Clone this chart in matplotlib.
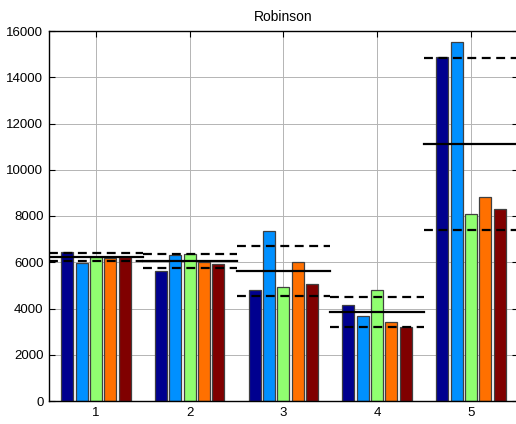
import numpy as np
import matplotlib
matplotlib.use("Agg")
import matplotlib.pyplot as plt

plt.rcParams['font.family'] = ['Liberation Sans', 'DejaVu Sans']

title = "Robinson"
groups = [1, 2, 3, 4, 5]
series_colors = ["#00008F", "#0090FF", "#90FF70", "#FF7000", "#800000"]
values = np.array([
    [6430, 5954, 6240, 6196, 6240],
    [5621, 6313, 6356, 6010, 5937],
    [4800, 7364, 4942, 6023, 5059],
    [4151, 3675, 4813, 3403, 3213],
    [14862, 15510, 8086, 8821, 8315],
])
yticks = [0, 2000, 4000, 6000, 8000, 10000, 12000, 14000, 16000]

means = values.mean(axis=1)
stds = values.std(axis=1, ddof=1)

fig = plt.figure(figsize=(5.16, 4.24), dpi=100)
ax = fig.add_axes([49/516, 23/424, 468.75/516, 370/424])

n = values.shape[1]
spacing = 0.153
width = 0.128
for j in range(n):
    xs = np.array(groups) + (j - (n - 1) / 2) * spacing
    ax.bar(xs, values[:, j], width=width, color=series_colors[j],
           edgecolor="#404040", linewidth=0.9, zorder=2)

for i, g in enumerate(groups):
    ax.plot([g - 0.5, g + 0.5], [means[i], means[i]], color="black", lw=1.6, zorder=3)
    for v in (means[i] + stds[i], means[i] - stds[i]):
        ax.plot([g - 0.5, g + 0.5], [v, v], color="black", lw=1.6,
                linestyle=(0, (4, 2.5)), zorder=3)

ax.set_xlim(0.5, 5.5)
ax.set_ylim(0, 16000)
ax.set_xticks(groups)
ax.set_yticks(yticks)
ax.grid(True, color="#b4b4b4", linewidth=0.7, zorder=0)
ax.set_axisbelow(True)
ax.tick_params(direction="in", length=4, labelsize=9.5, top=True, right=True,
               colors="black", width=0.8, pad=4)
for s in ax.spines.values():
    s.set_linewidth(1.0)
ax.set_title(title, fontsize=10, pad=7)

fig.savefig("out.png", dpi=100)
